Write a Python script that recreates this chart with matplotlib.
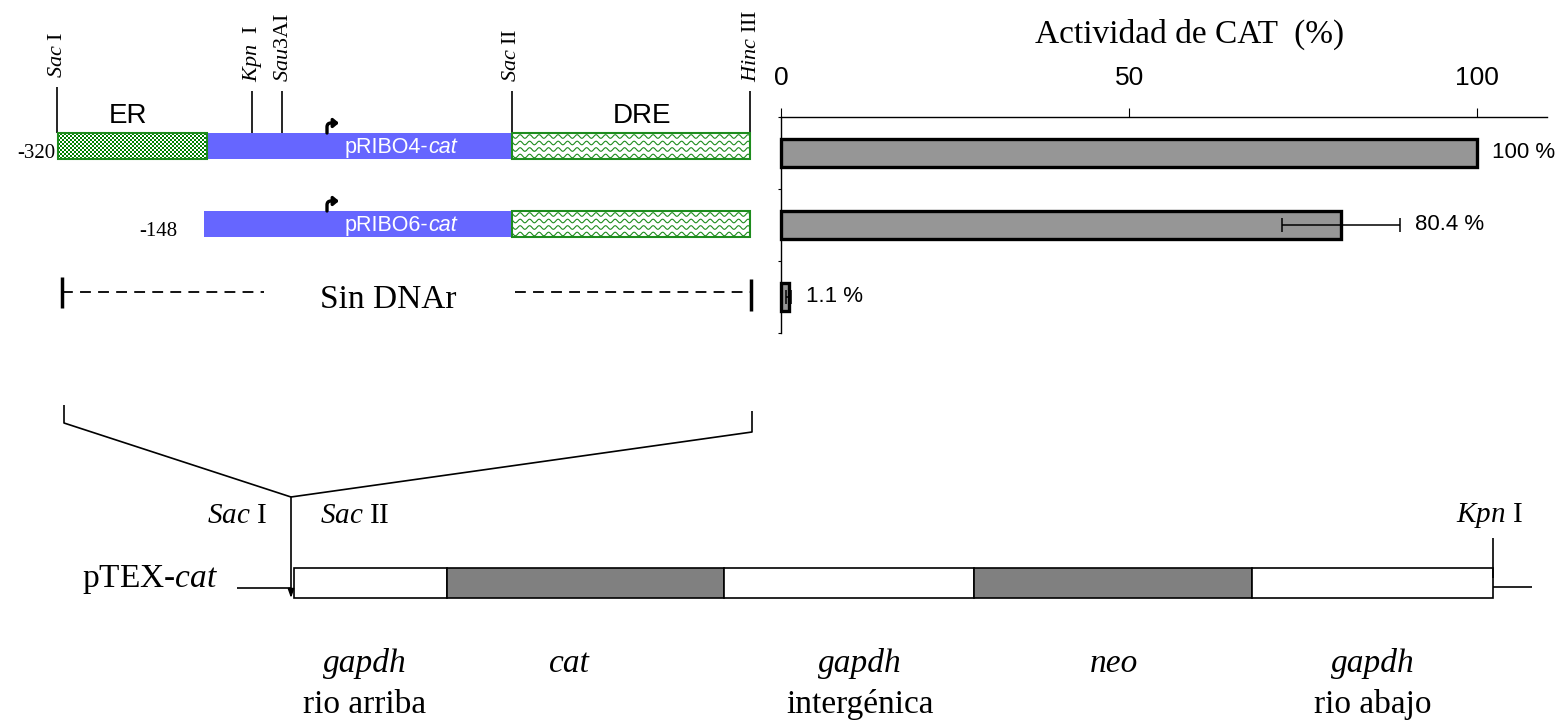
import matplotlib
matplotlib.use("Agg")
import matplotlib.pyplot as plt  # noqa: E402
import numpy as np  # noqa: E402
from matplotlib.patches import Rectangle  # noqa: E402
from matplotlib.transforms import offset_copy  # noqa: E402

SERIF = "Liberation Serif"
SANS = "Liberation Sans"
plt.rcParams["font.family"] = SANS
plt.rcParams["mathtext.fontset"] = "custom"
plt.rcParams["mathtext.rm"] = SERIF
plt.rcParams["mathtext.it"] = SERIF + ":italic"

# CAT activity data
constructs = ["pRIBO4-cat", "pRIBO6-cat", "Sin DNAr"]
activity = [100.0, 80.4, 1.1]
activity_err = [0.0, 8.5, 0.4]
activity_labels = ["100 %", "80.4 %", "1.1 %"]
activity_ticks = [0, 50, 100]

# restriction sites above the promoter constructs
site_labels = ["$\\mathit{Sac}$ I", "$\\mathit{Kpn}$  I", "$\\mathit{Sau3}$AI",
               "$\\mathit{Sac}$ II", "$\\mathit{Hinc}$ III"]
construct_start = ["-320", "-148"]

# pTEX-cat regions
region_genes = ["gapdh", "cat", "gapdh", "neo", "gapdh"]
region_desc = ["rio arriba", "", "intergénica", "", "rio abajo"]

BLUE = "#6666ff"
GREEN = "#1e8c1e"
GREY = "#808080"
BAR_GREY = "#969696"

W, H = 1567, 725
fig = plt.figure(figsize=(W / 100, H / 100), dpi=100)
renderer = fig.canvas.get_renderer()
ax = fig.add_axes([0, 0, 1, 1])
ax.axis("off")


def line(xs, ys, lw=1.2, **kw):
    ax.plot(xs, ys, color="black", lw=lw, solid_capstyle="butt", **kw)


def wavy_box(x0, x1, y0, h):
    bg = Rectangle((x0, y0), x1 - x0, h, facecolor="white", edgecolor="none", zorder=1)
    ax.add_patch(bg)
    xs = np.linspace(x0, x1, 600)
    for yo in np.arange(y0 + 3.5, y0 + h, 6.5):
        ax.plot(xs, yo + 1.8 * np.sin(2 * np.pi * xs / 9.5), color=GREEN,
                lw=0.8, clip_path=bg, zorder=2)
    ax.add_patch(Rectangle((x0, y0), x1 - x0, h, facecolor="none",
                           edgecolor=GREEN, lw=1.5, zorder=3))


def checker_box(x0, x1, y0, h):
    ny, nx = int(h), int(x1 - x0)
    yy, xx = np.mgrid[0:ny, 0:nx]
    white = ((yy // 2) + (xx // 2)) % 2 == 0
    img = np.where(white[..., None], [1.0, 1.0, 1.0], [0.0, 0.5, 0.0])
    ax.imshow(img, extent=(x0, x1, y0 + h, y0), interpolation="nearest",
              aspect="auto", zorder=2)
    ax.add_patch(Rectangle((x0, y0), x1 - x0, h, facecolor="none",
                           edgecolor=GREEN, lw=1.5, zorder=3))


def sans_label(x, y, head, tail):
    t = ax.text(x, y, head, color="white", fontsize=15.5, va="baseline",
                ha="left", zorder=5)
    w = t.get_window_extent(renderer).width
    ax.text(x, y, tail, color="white", fontsize=15.5, va="baseline", ha="left",
            style="italic", zorder=5,
            transform=offset_copy(ax.transData, fig=fig, x=w, y=0, units="dots"))


def promoter(x, yb):
    ax.annotate("", xy=(x + 12, yb - 10), xytext=(x, yb),
                arrowprops=dict(arrowstyle="-|>,head_length=0.3,head_width=0.25",
                                connectionstyle="angle,angleA=90,angleB=0,rad=4",
                                lw=2.4, color="black", shrinkA=0, shrinkB=0),
                zorder=5)


# construct rows
row_top = [133, 211]
row_h = 26
blue_start = [207, 204]
for r, yt in enumerate(row_top):
    if r == 0:
        checker_box(58, 207, yt, row_h)
    ax.add_patch(Rectangle((blue_start[r], yt), 512 - blue_start[r], row_h,
                           facecolor=BLUE, edgecolor="none", zorder=2))
    wavy_box(512, 750, yt, row_h)
    head, tail = constructs[r].split("-")
    sans_label(345, yt + 20, head + "-", tail)
    promoter(327, yt)

ax.text(55, 158, construct_start[0], family=SERIF, fontsize=15, ha="right", va="baseline")
ax.text(177, 236, construct_start[1], family=SERIF, fontsize=15, ha="right", va="baseline")
ax.text(128, 123, "ER", fontsize=20, ha="center", va="baseline")
ax.text(642, 123, "DRE", fontsize=20, ha="center", va="baseline")

# restriction site ticks and labels
site_x = [57, 252, 282, 512, 750]
site_top = [87, 91, 91, 91, 91]
label_x = [57, 253, 283, 511, 751]
label_bottom = [78, 82, 82, 82, 82]
for i, lab in enumerate(site_labels):
    line([site_x[i], site_x[i]], [site_top[i], 133], lw=1.2)
    ax.text(label_x[i], label_bottom[i], lab, family=SERIF, fontsize=16,
            rotation=90, ha="center", va="bottom")

# "Sin DNAr" row
ax.plot([62, 264], [292, 292], color="black", lw=1.3, dashes=(6, 4))
ax.plot([515, 751], [292, 292], color="black", lw=1.3, dashes=(6, 4))
line([62, 62], [277, 308], lw=2.5)
line([751, 751], [279, 311], lw=2.5)
ax.text(388, 308, constructs[2], family=SERIF, fontsize=24, ha="center", va="baseline")

# insertion bracket
line([64, 64, 291], [405, 423, 497])
line([752, 752, 291], [411, 432, 497])
ax.annotate("", xy=(291, 598), xytext=(291, 497),
            arrowprops=dict(arrowstyle="-|>,head_length=0.5,head_width=0.18",
                            lw=1.2, color="black", shrinkA=0, shrinkB=0))
ax.text(207, 523, "$\\mathit{Sac}$ I", family=SERIF, fontsize=21, ha="left", va="baseline")
ax.text(320, 523, "$\\mathit{Sac}$ II", family=SERIF, fontsize=21, ha="left", va="baseline")

# pTEX-cat map
region_edges = [294, 447, 724, 974, 1252, 1493]
region_fill = ["white", GREY, "white", GREY, "white"]
label_cx = [365, 569, 860, 1114, 1373]
for i, gene in enumerate(region_genes):
    x0, x1 = region_edges[i], region_edges[i + 1]
    ax.add_patch(Rectangle((x0, 568), x1 - x0, 30, facecolor=region_fill[i],
                           edgecolor="black", lw=1.2, zorder=2))
    ax.text(label_cx[i], 672, gene, family=SERIF, style="italic", fontsize=24,
            ha="center", va="baseline")
    if region_desc[i]:
        ax.text(label_cx[i], 713, region_desc[i], family=SERIF, fontsize=24,
                ha="center", va="baseline")

line([237, 291], [588, 588])
line([1493, 1532], [587, 587])
line([1493, 1493], [538, 578])
ax.text(82, 587, "pTEX-$\\mathit{cat}$", family=SERIF, fontsize=24, ha="left", va="baseline")
ax.text(1456, 522, "$\\mathit{Kpn}$ I", family=SERIF, fontsize=21, ha="left", va="baseline")

ax.text(1190, 43, "Actividad de CAT  (%)", family=SERIF, fontsize=24,
        ha="center", va="baseline")

ax.set_xlim(0, W)
ax.set_ylim(H, 0)

# bar chart of CAT activity
bx = fig.add_axes([781 / W, 1 - 333 / H, (1547 - 781) / W, (333 - 117) / H])
bx.patch.set_alpha(0)
ypos = np.arange(len(activity))
bx.barh(ypos, activity, height=0.4, color=BAR_GREY, edgecolor="black",
        linewidth=2.4, clip_on=False, zorder=2)
has_err = [i for i, e in enumerate(activity_err) if e > 0]
bx.errorbar([activity[i] for i in has_err], ypos[has_err],
            xerr=[activity_err[i] for i in has_err], fmt="none", ecolor="black",
            elinewidth=1.1, capsize=5, capthick=1.1, zorder=3)
for i, lab in enumerate(activity_labels):
    bx.annotate(lab, xy=(activity[i] + activity_err[i], ypos[i]), xytext=(15, 0),
                textcoords="offset pixels", va="center", ha="left", fontsize=16)

bx.set_xlim(0, 110)
bx.set_ylim(2.5, -0.5)
bx.set_xticks(activity_ticks)
bx.set_yticks([-0.5, 0.5, 1.5, 2.5])
bx.set_yticklabels([])
bx.xaxis.tick_top()
bx.tick_params(axis="x", direction="out", length=6.5, width=0.8, pad=13, labelsize=19)
bx.tick_params(axis="y", direction="out", length=2.5, width=0.8)
for s in ["right", "bottom"]:
    bx.spines[s].set_visible(False)
for s in ["left", "top"]:
    bx.spines[s].set_linewidth(1.0)

fig.savefig("out.png", dpi=100)
